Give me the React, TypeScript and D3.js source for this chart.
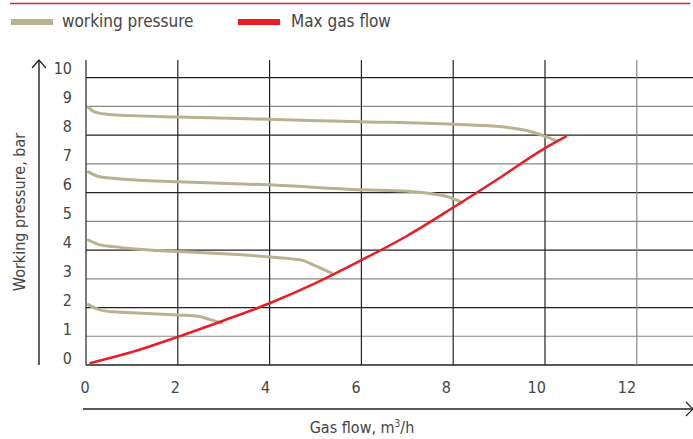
import React from "react";
import * as d3 from "d3";

const W = 693;
const H = 439;

const xTicks = [0, 2, 4, 6, 8, 10, 12];
const yTicks = [0, 1, 2, 3, 4, 5, 6, 7, 8, 9, 10];
const xGrid = [0, 2, 4, 6, 8, 10, 12];

const legendLabels = ["working pressure", "Max gas flow"];
const xTitle = "Gas flow, m";
const yTitle = "Working pressure, bar";

const maxFlow: [number, number][] = [
  [0.1, 0.07], [1, 0.45], [2, 0.98], [3, 1.55], [4, 2.15], [5, 2.85],
  [6, 3.65], [7, 4.5], [8, 5.48], [9, 6.5], [10, 7.55], [10.45, 7.95],
];

const pressure9: [number, number][] = [
  [0.05, 8.97], [0.2, 8.8], [0.5, 8.72], [1, 8.68], [2, 8.63], [4, 8.55],
  [6, 8.47], [8, 8.38], [9, 8.3], [9.7, 8.12], [10.05, 7.93], [10.25, 7.8],
];
const pressure7: [number, number][] = [
  [0.05, 6.72], [0.3, 6.55], [1, 6.45], [2, 6.38], [4, 6.27], [6, 6.1],
  [7, 6.05], [7.5, 5.97], [7.9, 5.85], [8.2, 5.65],
];
const pressure4: [number, number][] = [
  [0.05, 4.35], [0.3, 4.18], [0.6, 4.12], [1, 4.05], [2, 3.95], [3, 3.87],
  [4, 3.76], [4.7, 3.65], [5, 3.45], [5.35, 3.2],
];
const pressure2: [number, number][] = [
  [0.05, 2.1], [0.3, 1.92], [0.6, 1.85], [1, 1.82], [2, 1.74], [2.45, 1.7],
  [2.7, 1.58], [2.95, 1.47],
];
const pressureSeries = [pressure9, pressure7, pressure4, pressure2];

const RED = "#ec1c24";
const TAN = "#b9b28f";
const TEXT = "#454545";
const FONT = "'Liberation Sans Narrow', 'DejaVu Sans Condensed', 'Roboto Condensed', 'Open Sans', sans-serif";

export default function App() {
  const x = d3.scaleLinear().domain([0, 13]).range([86, 86 + 13 * 45.9]);
  const y = d3.scaleLinear().domain([0, 10]).range([365, 77.7]);
  const xLab = d3.scaleLinear().domain([0, 12]).range([85, 627]);
  const yLab = d3.scaleLinear().domain([0, 10]).range([358, 68]);

  const line = d3
    .line<[number, number]>()
    .x((d) => x(d[0]))
    .y((d) => y(d[1]))
    .curve(d3.curveMonotoneX);

  return (
    <svg
      width={W}
      height={H}
      style={{ position: "absolute", left: 0, top: 0, background: "#fff" }}
      fontFamily={FONT}
    >
      {/* top red rule */}
      <line x1={10} x2={690} y1={3.5} y2={3.5} stroke={RED} strokeWidth={1.3} />

      {/* legend */}
      <rect x={11} y={19} width={42} height={6} fill={TAN} />
      <text x={62} y={27} fontSize={17} fill={TEXT}>{legendLabels[0]}</text>
      <rect x={238} y={19} width={42} height={6} fill={RED} />
      <text x={291} y={27} fontSize={17} fill={TEXT}>{legendLabels[1]}</text>

      {/* horizontal grid */}
      {yTicks.map((v) => (
        <line
          key={"h" + v}
          x1={86}
          x2={W}
          y1={y(v)}
          y2={y(v)}
          stroke={v % 2 === 0 ? "#222" : "#888"}
          strokeWidth={v === 0 ? 1.6 : 1.2}
        />
      ))}
      {/* vertical grid */}
      {xGrid.map((v) => (
        <line
          key={"v" + v}
          x1={x(v)}
          x2={x(v)}
          y1={60}
          y2={365}
          stroke={v === 12 ? "#888" : "#222"}
          strokeWidth={1.2}
        />
      ))}

      {/* y tick labels */}
      {yTicks.map((v) => (
        <text
          key={"yl" + v}
          x={72}
          y={yLab(v)}
          textAnchor="end"
          dominantBaseline="central"
          fontSize={16}
          fill={TEXT}
        >
          {v}
        </text>
      ))}
      {/* x tick labels */}
      {xTicks.map((v) => (
        <text
          key={"xl" + v}
          x={xLab(v)}
          y={387}
          textAnchor="middle"
          dominantBaseline="central"
          fontSize={16}
          fill={TEXT}
        >
          {v}
        </text>
      ))}

      {/* y axis arrow */}
      <line x1={39} x2={39} y1={60} y2={365} stroke="#222" strokeWidth={1.4} />
      <polyline points="32,68 39,60 46,68" fill="none" stroke="#222" strokeWidth={1.2} />
      {/* x axis arrow */}
      <line x1={83} x2={692} y1={409} y2={409} stroke="#222" strokeWidth={1.4} />
      <polyline points="686,402 693,409 686,416" fill="none" stroke="#222" strokeWidth={1.2} />

      {/* axis titles */}
      <text
        transform={`translate(19,212) rotate(-90)`}
        textAnchor="middle"
        dominantBaseline="central"
        fontSize={16}
        fill={TEXT}
      >
        {yTitle}
      </text>
      <text x={362} y={433} textAnchor="middle" fontSize={16} fill={TEXT}>
        {xTitle}
        <tspan dy={-6} fontSize={10}>3</tspan>
        <tspan dy={6}>/h</tspan>
      </text>

      {/* data */}
      {pressureSeries.map((s, i) => (
        <path key={"p" + i} d={line(s) || ""} fill="none" stroke={TAN} strokeWidth={3} strokeLinecap="round" />
      ))}
      <path d={line(maxFlow) || ""} fill="none" stroke={RED} strokeWidth={2.5} strokeLinecap="round" />
    </svg>
  );
}
